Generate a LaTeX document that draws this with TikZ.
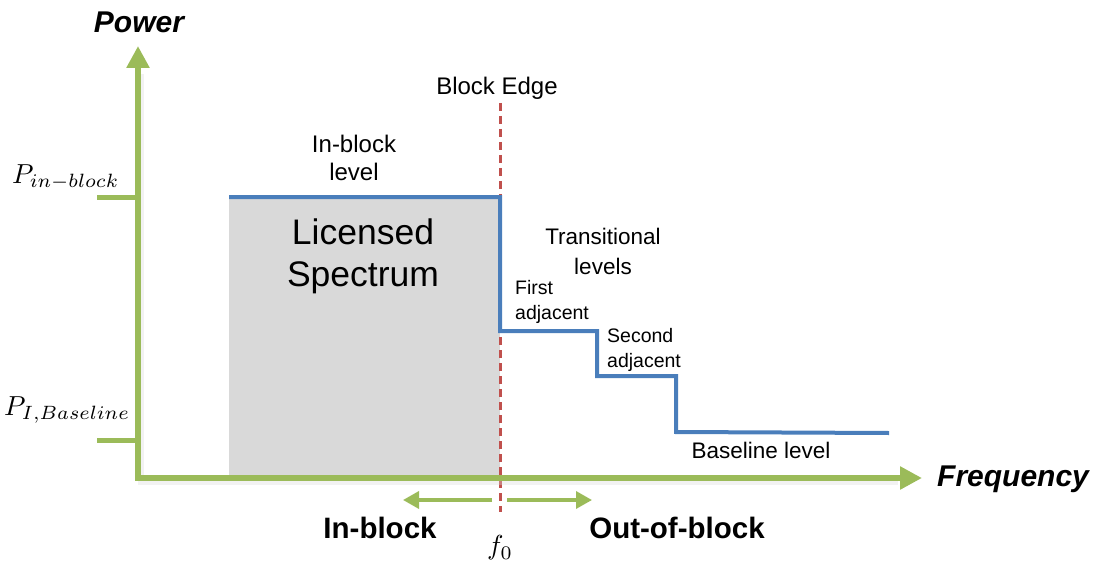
\documentclass[tikz,border=0pt]{standalone}
\usepackage{graphicx}
\usepackage{fontspec}
\setmainfont{Liberation Sans}
\usetikzlibrary{arrows.meta}
\definecolor{axisgreen}{HTML}{9BBB59}
\definecolor{levelblue}{HTML}{4A7EBB}
\definecolor{edgered}{HTML}{C0504D}
\definecolor{licgray}{HTML}{D9D9D9}
\newcommand{\fs}[2]{\fontsize{#1}{#2}\selectfont}
\newcommand{\bigmath}[1]{\scalebox{2.75}{$#1$}}
\begin{document}
\begin{tikzpicture}[x=1pt,y=-1pt,
  axisline/.style={draw=axisgreen,line width=6pt,line join=miter,
    {Triangle[length=22pt,width=22pt]}-{Triangle[length=22pt,width=22pt]}},
  axisshadow/.style={draw=black!15,line width=6pt,opacity=0.35},
  tickline/.style={draw=axisgreen,line width=5pt},
  levelline/.style={draw=levelblue,line width=4pt,line join=miter},
  edgeline/.style={draw=edgered,line width=3pt,dash pattern=on 8pt off 5pt},
  sidearrow/.style={draw=axisgreen,line width=3.5pt,-{Triangle[length=16pt,width=17pt]}},
  lbl/.style={inner sep=0pt,align=center,text=black},
  biglbl/.style={lbl,font=\bfseries\itshape\fs{30}{34}},
  mathlbl/.style={inner sep=0pt,text=black,font=\fs{10}{12}}]
\useasboundingbox (0,0) rectangle (1094,564);

% key points
\coordinate (O) at (138,478);
\coordinate (ytip) at (138,46);
\coordinate (xtip) at (922,478);
\coordinate (l0) at (229,197);
\coordinate (l1) at (500,197);
\coordinate (l2) at (500,331);
\coordinate (l3) at (597,331);
\coordinate (l4) at (597,376);
\coordinate (l5) at (676,376);
\coordinate (l6) at (676,432);
\coordinate (l7) at (889,433);
\coordinate (etop) at (500,103);
\coordinate (ebot) at (500,512);
\coordinate (tickA) at (97,197);
\coordinate (tickB) at (97,440);

% licensed band
\fill[licgray] (l0) rectangle (O -| l1);

% block edge
\draw[edgeline] (etop) -- (ebot);

% axes with a soft shadow
\draw[axisshadow] ([shift={(3,4)}]ytip |- 0,70) -- ([shift={(3,4)}]O) -- ([shift={(3,4)}]xtip -| 895,0);
\draw[axisline] (ytip) -- (O) -- (xtip);
\draw[tickline] (tickA) -- (tickA -| O);
\draw[tickline] (tickB) -- (tickB -| O);

% emission mask
\draw[levelline] (l0) -- (l1) -- (l2) -- (l3) -- (l4) -- (l5) -- (l6) -- (l7);

% in-block / out-of-block arrows
\coordinate (ia) at (492,500);
\coordinate (ib) at (403,500);
\coordinate (oa) at (507,500);
\coordinate (ob) at (592,500);
\draw[sidearrow] (ia) -- (ib);
\draw[sidearrow] (oa) -- (ob);

% labels
\node[biglbl] (power) at (139,22) {Power};
\node[biglbl,anchor=west] (freq) at (937,479) {Frequency};
\node[lbl,font=\fs{24}{28}] (edge) at (497,88) {Block Edge};
\node[lbl,font=\fs{24}{28}] (inlvl) at (354,158) {In-block\\level};
\node[lbl,font=\fs{35.5}{42}] (lic) at (363,256) {Licensed\\Spectrum};
\node[lbl,font=\fs{22.5}{30}] (trans) at (603,251) {Transitional\\levels};
\node[lbl,font=\fs{19.5}{25},align=left,anchor=west] (first) at (515,302) {First\\adjacent};
\node[lbl,font=\fs{19.5}{25},align=left,anchor=west] (second) at (607,350) {Second\\adjacent};
\node[lbl,font=\fs{22.5}{26}] (base) at (761,450) {Baseline level};
\node[lbl,font=\bfseries\fs{29.5}{34}] (inb) at (380,528) {In-block};
\node[lbl,font=\bfseries\fs{29.5}{34}] (outb) at (677,528) {Out-of-block};
\node[mathlbl] (f0) at (500,548) {\bigmath{f_0}};
\node[mathlbl,anchor=west] (pin) at (12,177) {\bigmath{P_{in-block}}};
\node[mathlbl,anchor=west] (pbase) at (4,410) {\bigmath{P_{I,Baseline}}};
\end{tikzpicture}
\end{document}
